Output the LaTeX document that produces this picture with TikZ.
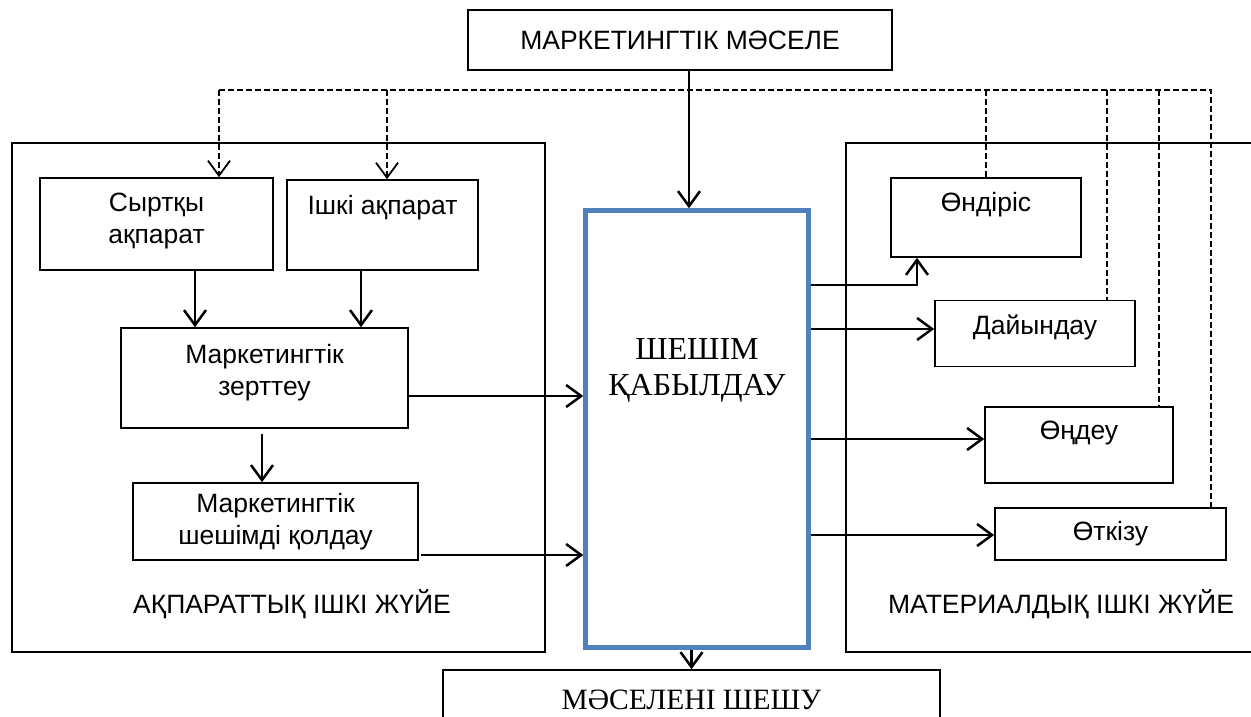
\documentclass[tikz,border=0pt]{standalone}
\usepackage{fontspec}
\setmainfont{Liberation Sans}
\newfontfamily\serifkz{Liberation Serif}
\usetikzlibrary{arrows.meta}
\definecolor{frameblue}{RGB}{79,129,189}

\begin{document}
\begin{tikzpicture}[x=1pt, y=-1pt,
  box/.style={draw, line width=1.6pt, inner sep=0pt},
  txt/.style={align=center, font=\fontsize{26.5}{32}\selectfont, inner sep=0pt},
  big/.style={align=center, font=\serifkz\fontsize{32}{36}\selectfont, inner sep=0pt},
  arr/.style={-{Straight Barb[length=15pt,width=22pt]}, line width=2.5pt},
  dashln/.style={dash pattern=on 6pt off 3pt, line width=1.8pt}
]
\useasboundingbox (0,0) rectangle (1251,717);
\clip (0,0) rectangle (1251,717);

% frames of the two subsystems
\node[box, minimum width=533pt, minimum height=509pt] (info) at (278.5,397.5) {};
\node[box, minimum width=414pt, minimum height=509pt] (mat) at (1053,397.5) {};
\node[txt] (infolbl) at (292,604) {АҚПАРАТТЫҚ ІШКІ ЖҮЙЕ};
\node[txt] (matlbl) at (1061,604) {МАТЕРИАЛДЫҚ ІШКІ ЖҮЙЕ};

% centre column
\node[box, txt, minimum width=424pt, minimum height=60pt] (problem) at (680,40) {МАРКЕТИНГТІК МӘСЕЛЕ};
\node[draw=frameblue, line width=4.5pt, minimum width=223pt, minimum height=437pt,
  label={[big, yshift=59pt]center:ШЕШІМ\\ҚАБЫЛДАУ}] (decide) at (697,429) {};
\node[box, minimum width=497pt, minimum height=70pt,
  label={[big, font=\serifkz\fontsize{29.5}{34}\selectfont, yshift=5pt]center:МӘСЕЛЕНІ ШЕШУ}] (solve) at (691.5,705) {};

% information subsystem
\node[box, minimum width=233pt, minimum height=92pt,
  label={[txt, yshift=3pt]center:Сыртқы\\ақпарат}] (sirt) at (156.5,224) {};
\node[box, minimum width=191pt, minimum height=90pt,
  label={[txt, yshift=17pt]center:Ішкі ақпарат}] (ishki) at (382.5,225) {};
\node[box, minimum width=287pt, minimum height=100pt,
  label={[txt, yshift=5pt]center:Маркетингтік\\зерттеу}] (zert) at (264.5,378) {};
\node[box, txt, minimum width=285pt, minimum height=77pt] (sheshim) at (275.5,521.5) {Маркетингтік\\шешімді қолдау};

% material subsystem
\node[box, minimum width=190pt, minimum height=79pt,
  label={[txt, yshift=12.5pt]center:Өндіріс}] (ondiris) at (986,217.5) {};
\node[box, minimum width=200pt, minimum height=66pt,
  label={[txt, yshift=6.5pt]center:Дайындау}] (dai) at (1035,333.5) {};
\node[box, minimum width=188pt, minimum height=76pt,
  label={[txt, yshift=12pt]center:Өңдеу}] (ondeu) at (1079,445) {};
\node[box, txt, minimum width=231pt, minimum height=52pt] (otk) at (1110.5,534) {Өткізу};

% dashed feed lines
\coordinate (dl) at (219,90);
\coordinate (dr) at (1211,90);
\draw[dashln] (dl) -- (dr) -- (dr |- otk.north);
\draw[arr, dashln] (dl) -- (dl |- sirt.north);
\draw[arr, dashln] ([xshift=4.5pt]ishki.north |- dl) -- ([xshift=4.5pt]ishki.north);
\draw[dashln] (ondiris.north |- dl) -- (ondiris.north);
\draw[dashln] ([xshift=72pt]dai.north |- dl) -- ([xshift=72pt]dai.north);
\draw[dashln] ([xshift=80pt]ondeu.north |- dl) -- ([xshift=80pt]ondeu.north);

% solid arrows
\draw[arr] ([xshift=9pt]problem.south) -- ([xshift=9pt]problem.south |- decide.north);
\draw[arr] (solve.north |- decide.south) -- (solve.north);
\draw[arr] ([xshift=38.5pt]sirt.south) -- ([xshift=38.5pt]sirt.south |- zert.north);
\draw[arr] ([xshift=-21.5pt]ishki.south) -- ([xshift=-21.5pt]ishki.south |- zert.north);
\draw[arr, shorten <=5pt] ([xshift=-2.5pt]zert.south) -- ([xshift=-2.5pt]zert.south |- sheshim.north);
\draw[arr] ([yshift=-18pt]zert.east) -- ([yshift=-18pt]zert.east -| decide.west);
\draw[arr] ([xshift=2pt, yshift=-33.5pt]sheshim.east) -- ([yshift=-33.5pt]sheshim.east -| decide.west);
\draw[arr] ([yshift=144pt]decide.east) -| ([xshift=-69pt]ondiris.south);
\draw[arr] ([yshift=100pt]decide.east) -- ([yshift=100pt]decide.east -| dai.west);
\draw[arr] ([yshift=-10pt]decide.east) -- ([yshift=-10pt]decide.east -| ondeu.west);
\draw[arr] ([yshift=-106pt]decide.east) -- ([yshift=-106pt]decide.east -| otk.west);
\end{tikzpicture}
\end{document}
